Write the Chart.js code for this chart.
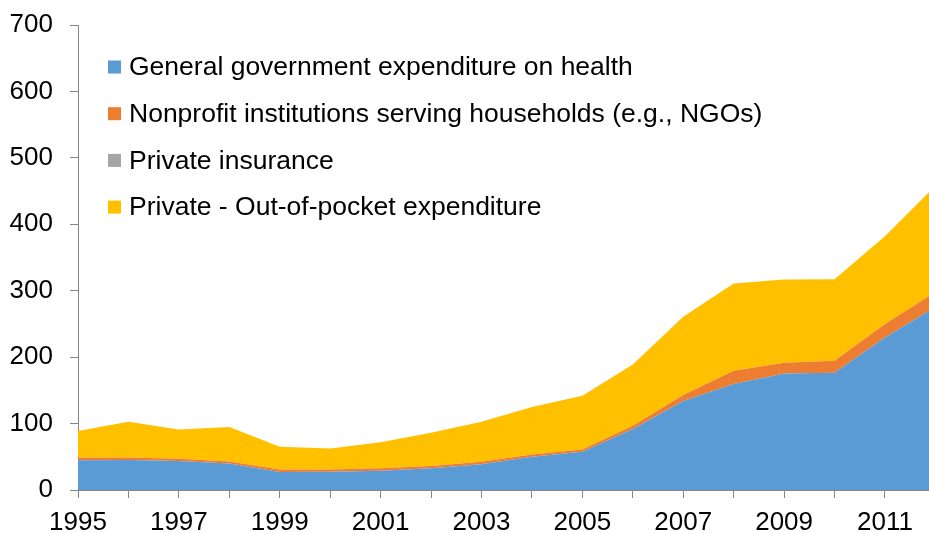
<!DOCTYPE html>
<html>
<head>
<meta charset="utf-8">
<script src="https://cdn.jsdelivr.net/npm/chart.js@4.4.1/dist/chart.umd.min.js"></script>
<style>
  html, body { margin: 0; padding: 0; background: #fff; overflow: hidden; }
  #wrap { width: 940px; height: 533px; }
</style>
</head>
<body>
<div id="wrap"><canvas id="healthChart" width="940" height="533"></canvas></div>
<script>
const years = ['1995', '1996', '1997', '1998', '1999', '2000', '2001', '2002', '2003',
  '2004', '2005', '2006', '2007', '2008', '2009', '2010', '2011', '2012'];

const governmentHealth = [44.6, 45, 43.6, 40, 27, 27.5, 29, 32.6, 38.6, 50, 57.6, 91.7, 133.8, 159.4, 175.4, 176.4, 229.6, 275.5];
const nonprofitHouseholds = [4, 4, 3.4, 3, 4, 3.5, 3.6, 3.4, 4, 3.6, 3.4, 5, 9.1, 20, 16.1, 18.1, 20.4, 22.5];
const privateInsurance = [0, 0, 0, 0, 0, 0, 0, 0, 0, 0, 0, 0, 0, 0, 0, 0, 0, 0];
const outOfPocket = [40.1, 53.7, 44.2, 52, 34, 31.6, 39.1, 50, 60.1, 71.4, 80.9, 92.3, 117.8, 131.4, 125.3, 122.8, 132, 160];

const yTicks = [0, 100, 200, 300, 400, 500, 600, 700];

const FONT = '"Liberation Sans", Arial, sans-serif';
const axisGray = '#868686';

function area(label, data, color, fill) {
  return {
    label: label,
    data: data,
    backgroundColor: color,
    borderColor: color,
    borderWidth: 0,
    pointRadius: 0,
    fill: fill,
    tension: 0
  };
}

// legend drawn inside the plot, stacked vertically like the original
const insideLegend = {
  id: 'insideLegend',
  afterDraw(chart) {
    const ctx = chart.ctx;
    const area = chart.chartArea;
    ctx.save();
    ctx.font = '26.5px ' + FONT;
    ctx.textBaseline = 'middle';
    ctx.textAlign = 'left';
    chart.data.datasets.forEach((ds, i) => {
      const cy = area.top + 42 + i * 46.7;
      ctx.fillStyle = ds.backgroundColor;
      ctx.fillRect(area.left + 30, cy - 6.5, 13, 13);
      ctx.fillStyle = '#000';
      ctx.fillText(ds.label, area.left + 51, cy + 1);
    });
    ctx.restore();
  }
};

new Chart(document.getElementById('healthChart').getContext('2d'), {
  type: 'line',
  data: {
    labels: years,
    datasets: [
      area('General government expenditure on health', governmentHealth, '#5B9BD5', 'origin'),
      area('Nonprofit institutions serving households (e.g., NGOs)', nonprofitHouseholds, '#ED7D31', '-1'),
      area('Private insurance', privateInsurance, '#A5A5A5', '-1'),
      area('Private - Out-of-pocket expenditure', outOfPocket, '#FFC000', '-1')
    ]
  },
  options: {
    responsive: false,
    animation: false,
    layout: { padding: { top: 25, right: 4.6, bottom: 0, left: 0 } },
    plugins: {
      legend: { display: false },
      tooltip: { enabled: false }
    },
    scales: {
      x: {
        type: 'category',
        offset: false,
        border: { display: true, color: axisGray, width: 1 },
        grid: { drawOnChartArea: false, drawTicks: true, tickLength: 8, color: axisGray },
        ticks: {
          autoSkip: false,
          maxRotation: 0,
          padding: 9,
          color: '#000',
          font: { family: FONT, size: 26 },
          callback: function (val, idx) { return idx % 2 === 0 ? years[idx] : ''; }
        },
        afterFit: function (scale) {
          scale.height = 43;
          scale.paddingLeft = 0;
          scale.paddingRight = 0;
        }
      },
      y: {
        stacked: true,
        min: yTicks[0],
        max: yTicks[yTicks.length - 1],
        border: { display: true, color: axisGray, width: 1 },
        grid: { drawOnChartArea: false, drawTicks: true, tickLength: 8, color: axisGray },
        afterBuildTicks: function (scale) { scale.ticks = yTicks.map(v => ({ value: v })); },
        ticks: {
          padding: 17,
          color: '#000',
          font: { family: FONT, size: 26 }
        },
        afterFit: function (scale) {
          scale.width = 78;
          scale.paddingTop = 0;
          scale.paddingBottom = 0;
        }
      }
    }
  },
  plugins: [insideLegend]
});
</script>
</body>
</html>
